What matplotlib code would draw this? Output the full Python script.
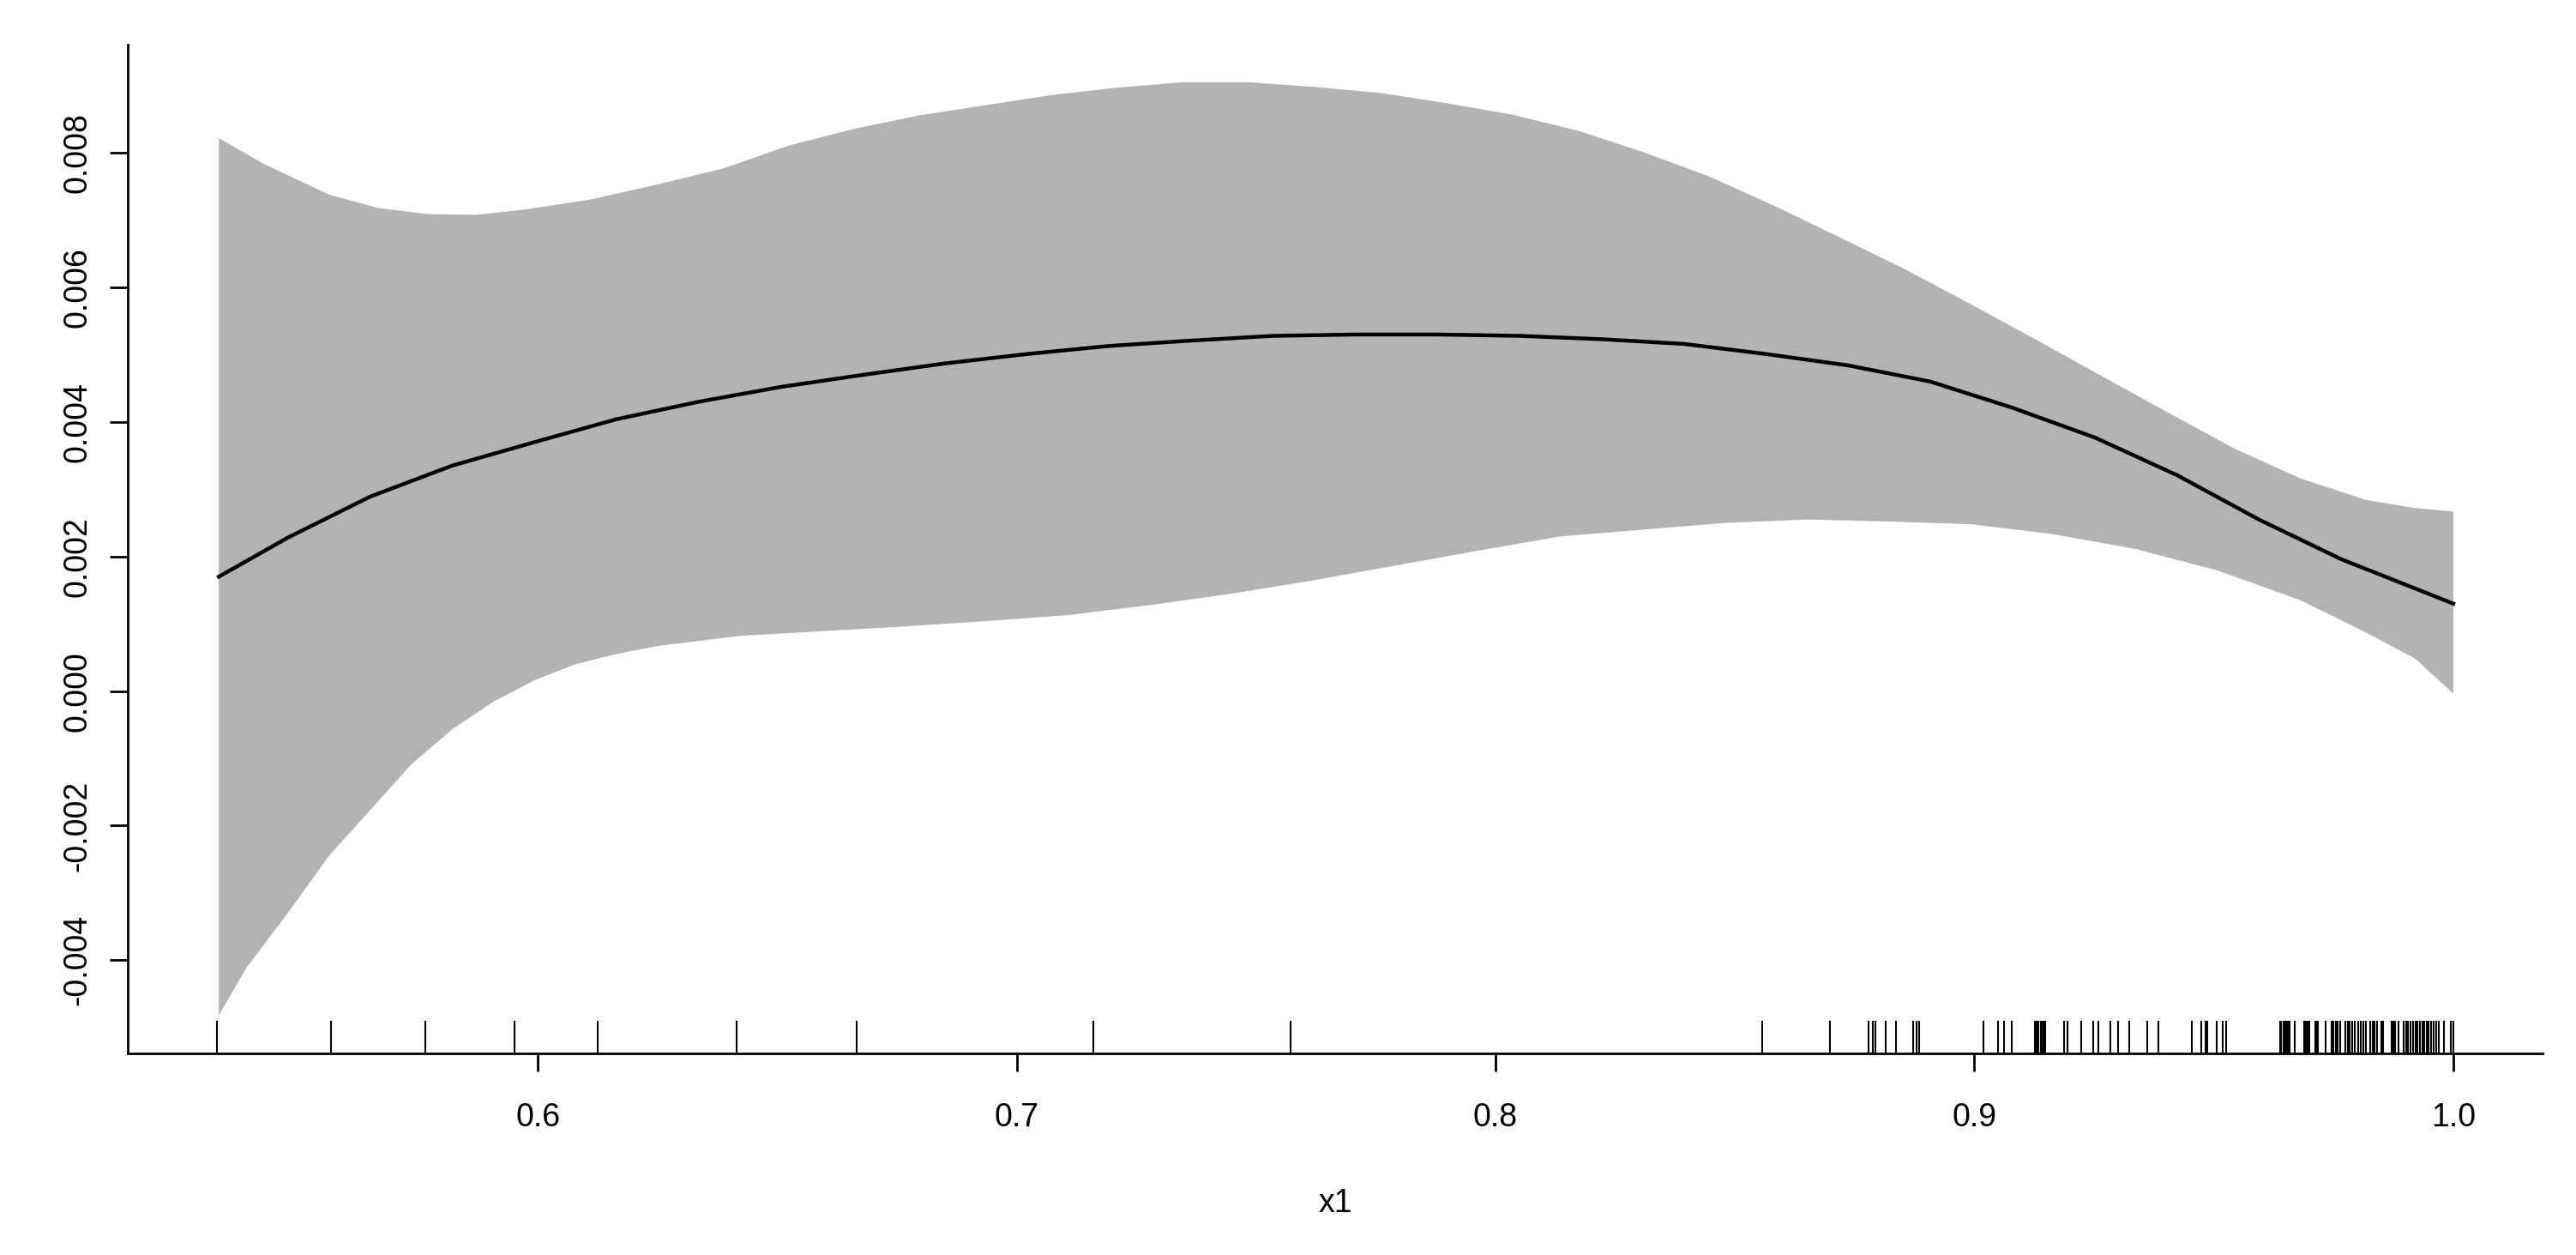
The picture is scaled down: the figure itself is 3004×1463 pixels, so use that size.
import matplotlib
matplotlib.use('Agg')
import matplotlib.pyplot as plt

plt.rcParams['font.family'] = ['Liberation Sans Narrow', 'Liberation Sans', 'DejaVu Sans']

# fitted smooth term
fit_x = [0.5334, 0.5478, 0.5650, 0.5821, 0.5993, 0.6164, 0.6336, 0.6507, 0.6679, 0.6850,
         0.7022, 0.7193, 0.7365, 0.7536, 0.7708, 0.7879, 0.8051, 0.8222, 0.8394, 0.8565,
         0.8737, 0.8908, 0.9080, 0.9251, 0.9423, 0.9594, 0.9766, 1.0000]
fit_y = [0.00170, 0.00228, 0.00289, 0.00335, 0.00370, 0.00404, 0.00430, 0.00452, 0.00470, 0.00487,
         0.00501, 0.00513, 0.00521, 0.00528, 0.00530, 0.00530, 0.00528, 0.00523, 0.00516, 0.00501,
         0.00484, 0.00460, 0.00421, 0.00377, 0.00321, 0.00255, 0.00196, 0.00130]

# upper confidence limit
up_x = [0.5334, 0.5427, 0.5564, 0.5667, 0.5770, 0.5873, 0.5976, 0.6113, 0.6250, 0.6388,
        0.6525, 0.6662, 0.6799, 0.6937, 0.7074, 0.7211, 0.7348, 0.7485, 0.7623, 0.7760,
        0.7897, 0.8034, 0.8172, 0.8309, 0.8446, 0.8583, 0.8720, 0.8858, 0.8995, 0.9132,
        0.9269, 0.9407, 0.9544, 0.9681, 0.9818, 0.9921, 1.0000]
up_y = [0.00822, 0.00784, 0.00738, 0.00718, 0.00709, 0.00708, 0.00716, 0.00731, 0.00753, 0.00777,
        0.00811, 0.00836, 0.00856, 0.00871, 0.00886, 0.00897, 0.00905, 0.00905, 0.00898, 0.00889,
        0.00874, 0.00857, 0.00833, 0.00801, 0.00765, 0.00721, 0.00674, 0.00626, 0.00574, 0.00521,
        0.00467, 0.00413, 0.00360, 0.00316, 0.00284, 0.00272, 0.00267]

# lower confidence limit
lo_x = [0.5334, 0.5392, 0.5478, 0.5564, 0.5650, 0.5736, 0.5821, 0.5907, 0.5993, 0.6079,
        0.6164, 0.6250, 0.6422, 0.6593, 0.6765, 0.6937, 0.7108, 0.7280, 0.7451, 0.7623,
        0.7794, 0.7966, 0.8137, 0.8309, 0.8480, 0.8652, 0.8823, 0.8995, 0.9166, 0.9338,
        0.9509, 0.9681, 0.9818, 0.9921, 1.0000]
lo_y = [-0.00482, -0.00411, -0.00330, -0.00245, -0.00177, -0.00109, -0.00057, -0.00016, 0.00016, 0.00040,
        0.00055, 0.00067, 0.00082, 0.00089, 0.00096, 0.00104, 0.00113, 0.00128, 0.00145, 0.00165,
        0.00187, 0.00209, 0.00230, 0.00240, 0.00250, 0.00255, 0.00252, 0.00248, 0.00233, 0.00211,
        0.00179, 0.00135, 0.00087, 0.00048, -0.00004]

# observed x1 values (rug)
rug_x = [0.5330, 0.5569, 0.5765, 0.5952, 0.6126, 0.6415, 0.6666, 0.7160, 0.7572, 0.8557,
         0.8699, 0.8779, 0.8788, 0.8793, 0.8815, 0.8836, 0.8872, 0.8879, 0.8885,
         0.9018, 0.9049, 0.9061, 0.9078, 0.9127, 0.9130, 0.9134, 0.9138, 0.9141, 0.9145, 0.9148,
         0.9187, 0.9194, 0.9223, 0.9248, 0.9259, 0.9284, 0.9300, 0.9324,
         0.9361, 0.9385, 0.9454, 0.9474, 0.9483, 0.9487, 0.9506, 0.9518, 0.9526,
         0.9638, 0.9641, 0.9645, 0.9649, 0.9652, 0.9655, 0.9659, 0.9668,
         0.9688, 0.9692, 0.9695, 0.9699, 0.9711,
         0.9714, 0.9718, 0.9733, 0.9745, 0.9749, 0.9754, 0.9758, 0.9764, 0.9774, 0.9779,
         0.9783, 0.9788, 0.9794, 0.9802, 0.9807, 0.9812, 0.9817, 0.9826, 0.9831, 0.9836,
         0.9841, 0.9850, 0.9854, 0.9871, 0.9874, 0.9878, 0.9886, 0.9897, 0.9902, 0.9906,
         0.9911, 0.9916, 0.9921, 0.9925, 0.9930, 0.9935, 0.9940, 0.9945, 0.9949, 0.9954,
         0.9959, 0.9964, 0.9969, 0.9980, 0.9994, 1.0000]

xticks = [0.6, 0.7, 0.8, 0.9, 1.0]
yticks = [-0.004, -0.002, 0.000, 0.002, 0.004, 0.006, 0.008]

fig = plt.figure(figsize=(30.04, 14.63), dpi=100)
ax = fig.add_axes([0.0495, 0.1604, 0.9376, 0.8041])

# shaded band: upper limit then lower limit reversed
ax.fill(up_x + lo_x[::-1], up_y + lo_y[::-1], color='#b3b3b3', linewidth=0)
ax.plot(fit_x, fit_y, color='black', lw=3.2)
ax.vlines(rug_x, 0, 0.033, color='black', lw=1.5, transform=ax.get_xaxis_transform())

ax.set_xlim(0.51434, 1.01868)
ax.set_ylim(-0.00539, 0.00961)
ax.set_xticks(xticks)
ax.set_xticklabels(['0.6', '0.7', '0.8', '0.9', '1.0'])
ax.set_yticks(yticks)
ax.set_yticklabels(['-0.004', '-0.002', '0.000', '0.002', '0.004', '0.006', '0.008'],
                   rotation=90, va='center')

for s in ['top', 'right']:
    ax.spines[s].set_visible(False)
for s in ['left', 'bottom']:
    ax.spines[s].set_linewidth(2)

ax.tick_params(axis='both', length=15, width=2, labelsize=27)
ax.tick_params(axis='x', pad=26)
ax.tick_params(axis='y', pad=14)
ax.set_xlabel('x1', fontsize=27, labelpad=46)

fig.savefig('out.png', dpi=100)
